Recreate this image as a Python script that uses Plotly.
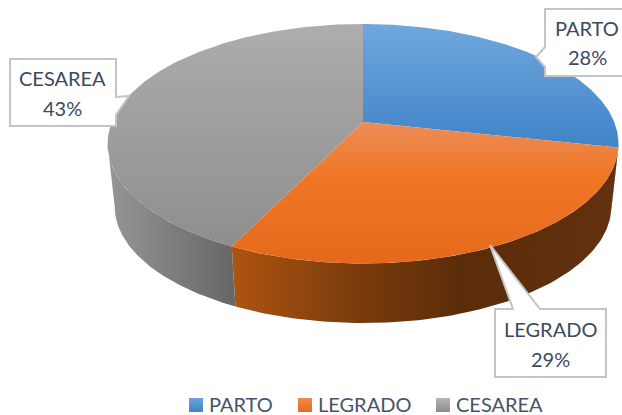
import numpy as np
import plotly.graph_objects as go

categories = ['PARTO', 'LEGRADO', 'CESAREA']
# the labels show these rounded, the slice edges in the picture sit a little off the round numbers
values = [28.4, 28.8, 42.8]

top_colors = [
    [[0, '#3F84C8'], [1, '#70A7DD']],
    [[0, '#E5691C'], [0.6, '#F07624'], [1, '#EC8C58']],
    [[0, '#8E8E8E'], [1, '#ADADAD']],
]
side_colors = [
    [[0, '#2F5F8F'], [1, '#2F5F8F']],
    [[0, '#AE5410'], [0.3, '#7E3D0C'], [0.6, '#5A2C0A'], [1, '#64310F']],
    [[0, '#969696'], [1, '#666666']],
]
legend_top = ['#6CA5DC', '#EE8A50', '#B5B5B5']
legend_bottom = ['#3F84C8', '#E8691C', '#8C8C8C']

TEXT_COLOR = '#3B4A5E'
LEGEND_TEXT = '#44546A'
BOX_LINE = '#C4C4C4'

# the pie is a tilted disc seen in perspective, so it is drawn on pixel-sized axes
APEX_X, APEX_Y = 363, 122
RX, RY, PERSP = 251.2, 115.8, 0.1816
BOTTOM_Y, BOTTOM_SCALE = 185.5, 0.972


def rim(deg, x0=APEX_X, y0=APEX_Y, scale=1.0):
    a = np.radians(deg)
    u, v = np.sin(a), np.cos(a)
    w = 1 + PERSP * v
    return x0 + scale * RX * u / w, y0 - scale * RY * v / w


fig = go.Figure()

edges = np.concatenate([[0], np.cumsum(values)]) / sum(values) * 360

# angle where the disc is widest, the wall is only seen between these two
wide = np.degrees(np.arccos(-PERSP))

# walls first, only the part of each slice that faces the viewer
for i, name in enumerate(categories):
    start, stop = max(edges[i], wide), min(edges[i + 1], 360 - wide)
    if stop <= start:
        continue
    deg = np.linspace(start, stop, 120)
    xt, yt = rim(deg)
    xb, yb = rim(deg, y0=BOTTOM_Y, scale=BOTTOM_SCALE)
    xs = np.concatenate([xt, xb[::-1]])
    ys = np.concatenate([yt, yb[::-1]])
    fig.add_trace(go.Scatter(
        x=xs, y=ys, mode='lines', fill='toself', line=dict(width=0),
        fillgradient=dict(type='horizontal', colorscale=side_colors[i],
                          start=xs.min(), stop=xs.max()),
        showlegend=False, hoverinfo='skip',
    ))

for i, name in enumerate(categories):
    deg = np.linspace(edges[i], edges[i + 1], 200)
    xt, yt = rim(deg)
    xs = np.concatenate([[APEX_X], xt, [APEX_X]])
    ys = np.concatenate([[APEX_Y], yt, [APEX_Y]])
    fig.add_trace(go.Scatter(
        x=xs, y=ys, mode='lines', fill='toself', line=dict(width=0),
        fillgradient=dict(type='vertical', colorscale=top_colors[i]),
        name=name, showlegend=False,
        hovertemplate=f'{name}: {values[i]:.0f}%<extra></extra>',
    ))

# callouts: box plus pointer
callouts = [
    'M 10 59 H 116 V 97 L 129 96 L 116 115 V 126 H 10 Z',
    'M 545 9 H 632 V 76 H 545 V 67 L 536 57 L 545 47 Z',
    'M 495 309 H 513 L 490 245 L 540 309 H 606 V 377 H 495 Z',
]
for path in callouts:
    fig.add_shape(type='path', path=path, xref='x', yref='y', layer='above',
                  fillcolor='white', line=dict(color=BOX_LINE, width=2))

# name and percentage are separate texts, the line gap is wider than plotly's <br>
label_pos = [(587, 28, 57), (550.5, 329, 359), (62.5, 78, 108)]
for name, val, (lx, y_name, y_val) in zip(categories, values, label_pos):
    for txt, ly in [(name, y_name), (f'{val:.0f}%', y_val)]:
        fig.add_annotation(
            x=lx, y=ly, xref='x', yref='y', showarrow=False, text=txt,
            font=dict(family='Lato', size=20, color=TEXT_COLOR),
        )

# legend drawn by hand, plotly's own legend keeps too wide a gap after the swatch
legend_x = [196, 305, 443]
for name, x0, c_top, c_bot in zip(categories, legend_x, legend_top, legend_bottom):
    fig.add_trace(go.Scatter(
        x=[x0], y=[405], mode='markers', showlegend=False, hoverinfo='skip',
        marker=dict(symbol='square', size=14, color=c_top, line=dict(width=0),
                    gradient=dict(type='vertical', color=c_bot)),
    ))
    fig.add_annotation(
        x=x0 + 11, y=404, xref='x', yref='y', showarrow=False, xanchor='left',
        text=name, font=dict(family='Lato', size=20, color=LEGEND_TEXT),
    )

fig.update_layout(
    width=622, height=415,
    margin=dict(l=0, r=0, t=0, b=0),
    paper_bgcolor='white', plot_bgcolor='white',
    showlegend=False,
    xaxis=dict(range=[0, 622], visible=False, fixedrange=True),
    yaxis=dict(range=[415, 0], visible=False, fixedrange=True),
)

# the page body has a default margin that would push the chart 8px off
fig.write_html('out.html', config={'displayModeBar': False},
               post_script="document.body.style.margin='0';")
